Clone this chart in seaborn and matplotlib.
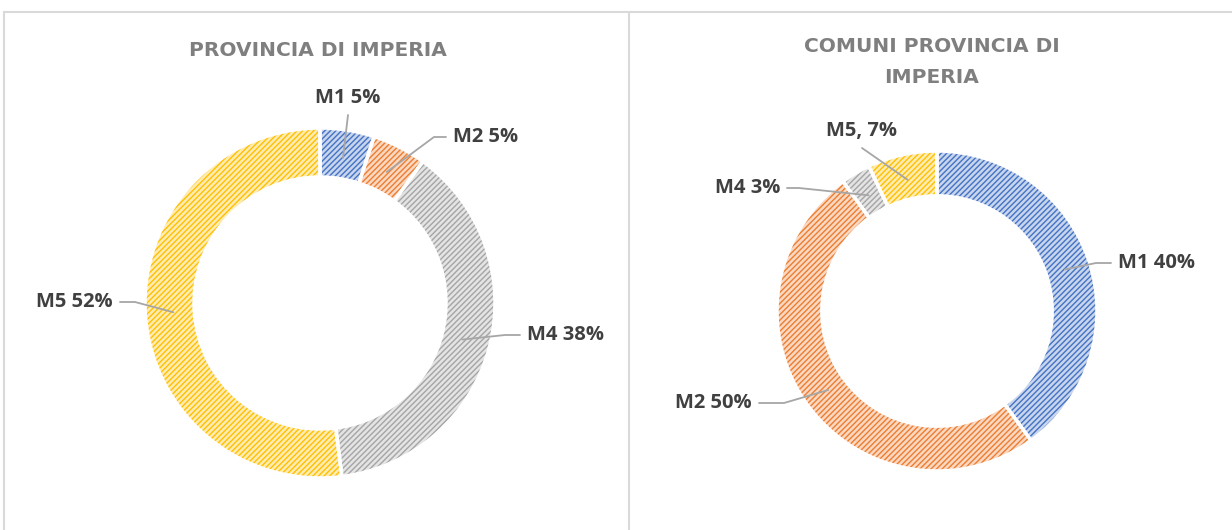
import numpy as np
import matplotlib
matplotlib.use("Agg")
import matplotlib.pyplot as plt
from matplotlib.lines import Line2D
import seaborn as sns

# data
labels_left = ["M1", "M2", "M4", "M5"]
values_left = [5, 5, 38, 52]
labels_right = ["M1", "M2", "M4", "M5"]
values_right = [40, 50, 3, 7]
base_colors = ["#4472C4", "#ED7D31", "#A5A5A5", "#FFC000"]

sns.set_theme(style="white")
plt.rcParams["font.family"] = ["Open Sans", "DejaVu Sans"]
plt.rcParams["hatch.linewidth"] = 1.0

W, H = 1232, 530
fig = plt.figure(figsize=(W / 100, H / 100), dpi=100)
fig.patch.set_facecolor("white")


def light(c, amt=0.7):
    rgb = np.array(matplotlib.colors.to_rgb(c))
    return tuple(rgb + (1 - rgb) * amt)


def donut(cx, cy, R, values, labels, label_specs, comma_m5=False):
    # cx, cy pixel center (from top), R pixel radius
    side = 520
    ax = fig.add_axes([(cx - side / 2) / W, (H - cy - side / 2) / H, side / W, side / H])
    wedges, _ = ax.pie(values, colors=[light(c) for c in base_colors], startangle=90,
                       counterclock=False, radius=1,
                       wedgeprops=dict(width=0.28, linewidth=0))
    for w, c in zip(wedges, base_colors):
        w.set_edgecolor(c)
        w.set_hatch("//////")
        w.set_linewidth(0)
    ax.pie(values, colors=["none"] * len(values), startangle=90, counterclock=False,
           radius=1, wedgeprops=dict(width=0.28, edgecolor="white", linewidth=2.5))
    lim = side / 2 / R
    ax.set_xlim(-lim, lim)
    ax.set_ylim(-lim, lim)
    ax.set_aspect("equal")
    ax.axis("off")
    for w, lab, v, spec in zip(wedges, labels, values, label_specs):
        mid = np.deg2rad((w.theta1 + w.theta2) / 2)
        px, py = 0.84 * np.cos(mid), 0.84 * np.sin(mid)
        tx, ty, ha, knee = spec
        tx_d, ty_d = (tx - cx) / R, (cy - ty) / R
        text = f"{lab}, {v}%" if (lab == "M5" and comma_m5) else f"{lab} {v}%"
        ax.text(tx_d, ty_d, text, ha=ha, va="center", fontsize=14.5,
                fontweight="bold", color="#404040")
        if ha == "center":
            ax.plot([tx_d, px], [ty_d - 17 / R, py], color="#a6a6a6", lw=1.3)
        else:
            sx = tx_d - 7 / R if ha == "left" else tx_d + 7 / R
            kx = sx + (-knee if ha == "left" else knee) / R
            ax.plot([sx, kx, px], [ty_d, ty_d, py], color="#a6a6a6", lw=1.3)
    return ax


# label specs: text x, text y (pixels), alignment, horizontal knee length
donut(320, 303, 175, values_left, labels_left,
      [(348, 98, "center", 0), (453, 137, "left", 12),
       (527, 335, "left", 15), (113, 302, "right", 15)])
donut(937, 311, 160, values_right, labels_right,
      [(1118, 263, "left", 15), (752, 403, "right", 25),
       (780, 188, "right", 12), (862, 131, "center", 0)], comma_m5=True)

title_kw = dict(ha="center", va="center", fontsize=14.5, fontweight="bold",
                color="#7f7f7f", family="DejaVu Sans")
fig.text(318 / W, 1 - 50 / H, "PROVINCIA DI IMPERIA", **title_kw)
fig.text(932 / W, 1 - 62 / H, "COMUNI PROVINCIA DI\nIMPERIA", linespacing=1.75, **title_kw)

# panel borders
bc = "#d9d9d9"
fig.add_artist(Line2D([4 / W, 1], [1 - 12 / H] * 2, color=bc, lw=1.5))
fig.add_artist(Line2D([4 / W] * 2, [0, 1 - 12 / H], color=bc, lw=1.5))
fig.add_artist(Line2D([629 / W] * 2, [0, 1 - 12 / H], color=bc, lw=1.5))

fig.savefig("out.png", dpi=100, facecolor="white")
